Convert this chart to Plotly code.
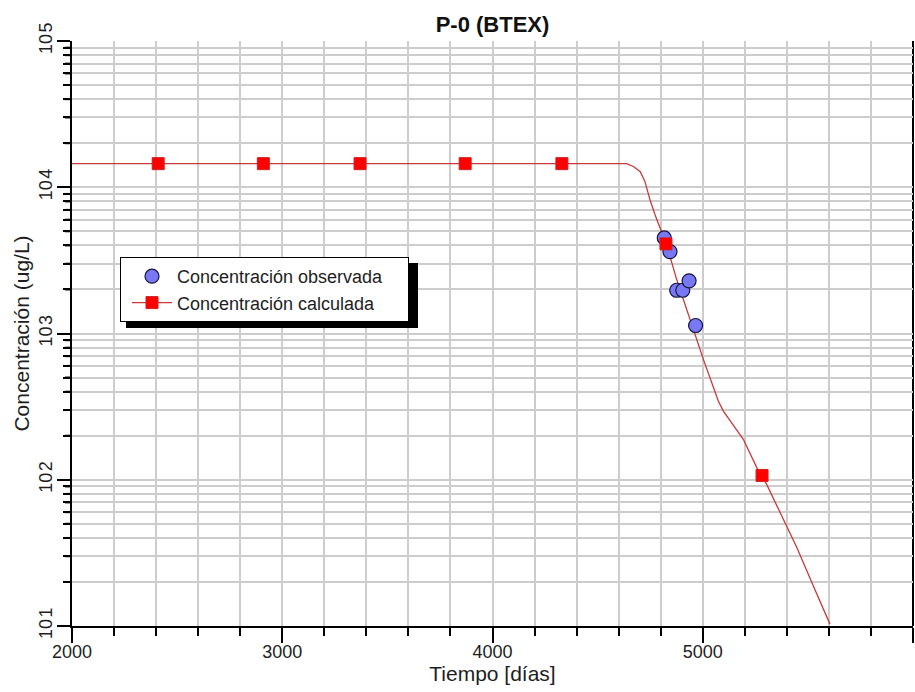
import plotly.graph_objects as go

# Simulated concentration curve (time in days, concentration in ug/L)
curve_t = [2000, 4638, 4670, 4702, 4725, 4749, 4773, 4801, 4829, 4876, 4923,
           4971, 5003, 5074, 5098, 5193, 5257, 5304, 5399, 5447, 5526, 5605]
curve_c = [14500, 14500, 13870, 12820, 10960, 8220, 6490, 5130, 4000, 2337, 1458,
           910, 665, 345, 295, 189, 121, 93, 48.4, 34.5, 18.8, 10.3]

# Calculated concentration at output times
calc_t = [2410, 2910, 3370, 3870, 4330, 4825, 5282]
calc_c = [14500, 14500, 14500, 14500, 14500, 4100, 107]

# Observed concentrations
obs_t = [4817, 4844, 4876, 4905, 4935, 4966]
obs_c = [4500, 3630, 1975, 1975, 2290, 1134]

# Axis ticks (decade labels written as "10" followed by the exponent)
y_major = [10, 100, 1000, 10000, 100000]
y_major_text = ["10\u200a1", "10\u200a2", "10\u200a3", "10\u200a4", "10\u200a5"]
y_minor = [m * 10 ** k for k in range(1, 5) for m in range(2, 10)]

LINE_RED = "#c83a3a"
SQ_RED = "#ff0000"
OBS_BLUE = "#7878f4"
GRID = "#cdcdcd"
FONT = "Liberation Sans, Arial, sans-serif"
TXT = "#1e1e1e"
PAD = "&nbsp;" * 4
PLOT_W = 915 - 72 - 2

fig = go.Figure()

fig.add_trace(go.Scatter(
    x=curve_t, y=curve_c, mode="lines",
    line=dict(color=LINE_RED, width=1.3),
    showlegend=False, hoverinfo="skip",
))
fig.add_trace(go.Scatter(
    x=obs_t, y=obs_c, mode="markers", name="Concentración observada" + PAD,
    marker=dict(symbol="circle", size=14, color=OBS_BLUE,
                line=dict(color="#14143c", width=1.2)),
))
fig.add_trace(go.Scatter(
    x=calc_t, y=calc_c, mode="markers", showlegend=False,
    marker=dict(symbol="square", size=12, color=SQ_RED,
                line=dict(color="#d02020", width=1)),
))
# legend entry for the calculated series (line + square)
fig.add_trace(go.Scatter(
    x=[None], y=[None], mode="lines+markers", name="Concentración calculada" + PAD,
    line=dict(color=LINE_RED, width=1.3),
    marker=dict(symbol="square", size=12, color=SQ_RED,
                line=dict(color="#d02020", width=1)),
))

shapes = [
    # legend drop shadow
    dict(type="rect", xref="paper", yref="paper", layer="above",
         x0=(126 - 72) / PLOT_W, x1=(418 - 72) / PLOT_W,
         y0=1 - (328 - 41) / 585, y1=1 - (263 - 41) / 585,
         fillcolor="black", line=dict(width=0)),
    # right frame edge (under the grid)
    dict(type="line", xref="paper", yref="paper", layer="below",
         x0=1, x1=1, y0=0, y1=1, line=dict(color="black", width=2)),
]
# short outside ticks for the intermediate log values on the left axis
for v in y_minor:
    shapes.append(dict(type="line", xref="paper", yref="y", layer="above",
                       x0=-7 / PLOT_W, x1=0, y0=v, y1=v,
                       line=dict(color="black", width=2)))

fig.update_layout(
    width=915, height=692,
    margin=dict(l=72, r=2, t=41, b=66),
    paper_bgcolor="white", plot_bgcolor="white",
    font=dict(family=FONT, color=TXT, size=18),
    title=dict(text="<b>P-0 (BTEX)</b>", x=0.5, xref="paper", xanchor="center",
               y=1 - 24 / 692, yanchor="middle",
               font=dict(family=FONT, size=22, color="#111111")),
    showlegend=True,
    legend=dict(
        x=(120 - 72) / PLOT_W, y=1 - (257 - 41) / 585, xanchor="left", yanchor="top",
        bgcolor="white", bordercolor="black", borderwidth=1,
        font=dict(family=FONT, size=18, color=TXT),
        tracegroupgap=0, itemwidth=40, indentation=6,
    ),
    shapes=shapes,
)

fig.update_xaxes(
    range=[2000, 6000], dtick=1000, tick0=2000,
    showline=True, linecolor="black", linewidth=2,
    ticks="outside", ticklen=15, tickwidth=2, tickcolor="black",
    showgrid=True, gridcolor=GRID, gridwidth=1.5,
    minor=dict(dtick=200, tick0=2000, ticks="outside", ticklen=8, tickwidth=2,
               tickcolor="black", showgrid=True, gridcolor=GRID, gridwidth=1.5),
    tickfont=dict(family=FONT, size=18, color=TXT),
    ticklabelstandoff=-7,
    title=dict(text="Tiempo [días]", font=dict(family=FONT, size=21, color=TXT), standoff=0),
    zeroline=False,
)

fig.update_yaxes(
    type="log", range=[1, 5],
    tickmode="array", tickvals=y_major, ticktext=y_major_text, tickangle=-90,
    showline=True, linecolor="black", linewidth=2,
    ticks="outside", ticklen=13, tickwidth=2, tickcolor="black",
    showgrid=True, gridcolor=GRID, gridwidth=1.5,
    minor=dict(dtick="D1", ticks="outside", ticklen=7, tickwidth=2,
               tickcolor="black", showgrid=True, gridcolor=GRID, gridwidth=1.5),
    tickfont=dict(family=FONT, size=18, color=TXT),
    ticklabelstandoff=-2,
    title=dict(text="Concentración (ug/L)", font=dict(family=FONT, size=21, color=TXT), standoff=0),
    zeroline=False,
)

fig.write_html("out.html")
